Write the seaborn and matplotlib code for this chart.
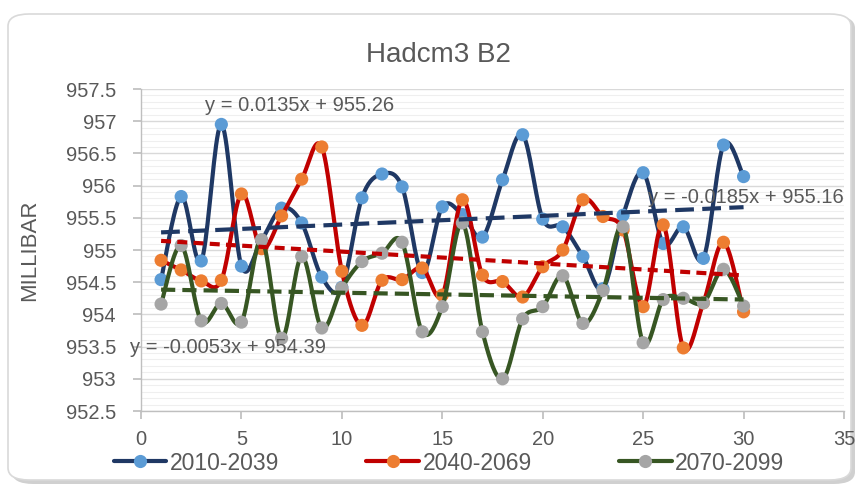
import numpy as np
import pandas as pd
import matplotlib
matplotlib.use("Agg")
import matplotlib.pyplot as plt
from matplotlib.patches import FancyBboxPatch
from matplotlib.lines import Line2D
import seaborn as sns

# ---------------- data ----------------
years = list(range(1, 31))
s2010 = [954.54, 955.83, 954.83, 956.95, 954.75, 955.15, 955.65, 955.42, 954.58, 954.42,
         955.81, 956.18, 955.98, 954.65, 955.67, 955.55, 955.20, 956.09, 956.79, 955.48,
         955.36, 954.90, 954.40, 955.54, 956.20, 955.10, 955.36, 954.87, 956.63, 956.14]
s2040 = [954.84, 954.69, 954.52, 954.53, 955.87, 955.02, 955.53, 956.10, 956.60, 954.67,
         953.83, 954.53, 954.54, 954.72, 954.30, 955.78, 954.61, 954.51, 954.27, 954.74,
         955.00, 955.78, 955.52, 955.31, 954.12, 955.39, 953.48, 954.18, 955.12, 954.04]
s2070 = [954.16, 955.07, 953.90, 954.17, 953.88, 955.16, 953.63, 954.90, 953.79, 954.41,
         954.82, 954.95, 955.12, 953.73, 954.12, 955.42, 953.73, 953.00, 953.93, 954.12,
         954.60, 953.86, 954.37, 955.36, 953.56, 954.23, 954.25, 954.18, 954.70, 954.13]
series_names = ["2010-2039", "2040-2069", "2070-2099"]
trend_slopes = [0.0135, -0.0185, -0.0053]
trend_intercepts = [955.26, 955.16, 954.39]
trend_labels = ["y = 0.0135x + 955.26", "y = -0.0185x + 955.16", "y = -0.0053x + 954.39"]
title = "Hadcm3 B2"
ylabel = "MILLIBAR"

# ---------------- style ----------------
sns.set_theme(style="white")
plt.rcParams["font.family"] = ["Liberation Sans", "DejaVu Sans"]
txt = "#595959"

line_colors = ["#1F3864", "#C00000", "#375623"]
marker_colors = ["#5B9BD5", "#ED7D31", "#A5A5A5"]
dash_styles = [(0, (4.5, 2.0)), (0, (2.4, 1.5)), (0, (3.4, 1.7))]

def smooth(x, y, n=20):
    x = np.asarray(x, float); y = np.asarray(y, float)
    px = np.concatenate([[x[0]], x, [x[-1]]])
    py = np.concatenate([[y[0]], y, [y[-1]]])
    xs, ys = [], []
    t = np.linspace(0, 1, n)
    for i in range(1, len(px) - 2):
        p0 = np.array([px[i], py[i]]); p3 = np.array([px[i + 1], py[i + 1]])
        c1 = p0 + (p3 - np.array([px[i - 1], py[i - 1]])) / 6
        c2 = p3 - (np.array([px[i + 2], py[i + 2]]) - p0) / 6
        b = ((1 - t) ** 3)[:, None] * p0 + (3 * (1 - t) ** 2 * t)[:, None] * c1 \
            + (3 * (1 - t) * t ** 2)[:, None] * c2 + (t ** 3)[:, None] * p3
        xs.append(b[:, 0]); ys.append(b[:, 1])
    return np.concatenate(xs), np.concatenate(ys)

fig = plt.figure(figsize=(8.59, 4.86), dpi=100)
fig.patch.set_facecolor("white")

# chart area frame with shadow
shadow = FancyBboxPatch((12 / 859, 1 - 484 / 486), 843 / 859, 468 / 486,
                        boxstyle="round,pad=0,rounding_size=0.025", transform=fig.transFigure,
                        facecolor="#D0D0D0", edgecolor="none", zorder=-3)
frame = FancyBboxPatch((8 / 859, 1 - 480 / 486), 843 / 859, 466 / 486,
                       boxstyle="round,pad=0,rounding_size=0.025", transform=fig.transFigure,
                       facecolor="white", edgecolor="#D9D9D9", linewidth=1.2, zorder=-2)
fig.patches.extend([shadow, frame])

ax = fig.add_axes([141 / 859, 1 - 411 / 486, 703 / 859, 322 / 486])
ax.set_facecolor("none")

all_series = [s2010, s2040, s2070]
for i, s in enumerate(all_series):
    sx, sy = smooth(years, s)
    df_line = pd.DataFrame({"x": sx, "y": sy})
    sns.lineplot(data=df_line, x="x", y="y", sort=False, ax=ax, color=line_colors[i],
                 linewidth=3.0, zorder=3 + i, estimator=None)
    df_pts = pd.DataFrame({"x": years, "y": s})
    sns.scatterplot(data=df_pts, x="x", y="y", ax=ax, color=marker_colors[i], s=90,
                    edgecolor="none", zorder=3.5 + i, linewidth=0)

for i in range(3):
    tx = np.array([1, 30])
    ty = trend_slopes[i] * tx + trend_intercepts[i]
    ax.plot(tx, ty, color=line_colors[i], linewidth=3.0, linestyle=dash_styles[i], zorder=7)

# trend labels
ax.text(3.2, 957.25, trend_labels[0], color=txt, fontsize=14.5, va="center", ha="left", zorder=10)
ax.text(25.25, 955.82, trend_labels[1], color=txt, fontsize=14.5, va="center", ha="left",
        zorder=10, clip_on=False)
ax.text(-0.55, 953.48, trend_labels[2], color=txt, fontsize=14.5, va="center", ha="left",
        zorder=10, clip_on=False)

ax.set_xlim(0, 35)
ax.set_ylim(952.5, 957.5)
ax.set_xticks(np.arange(0, 36, 5))
ax.set_yticks(np.arange(952.5, 957.51, 0.5))
ax.set_yticklabels([f"{v:g}" for v in np.arange(952.5, 957.51, 0.5)])
ax.set_yticks(np.arange(952.5, 957.51, 0.1), minor=True)
ax.grid(which="major", axis="y", color="#D9D9D9", linewidth=1.0)
ax.grid(which="minor", axis="y", color="#EFEFEF", linewidth=0.8)
ax.set_axisbelow(True)
for sp in ["top", "right"]:
    ax.spines[sp].set_visible(False)
for sp in ["left", "bottom"]:
    ax.spines[sp].set_color("#BFBFBF")
    ax.spines[sp].set_linewidth(1.0)
ax.tick_params(axis="y", which="major", direction="out", length=6, color="#BFBFBF",
               labelsize=14.5, labelcolor=txt, pad=12, left=True)
ax.tick_params(axis="y", which="minor", length=0)
ax.tick_params(axis="x", which="major", direction="out", length=6, color="#BFBFBF",
               labelsize=14.5, labelcolor=txt, pad=8, bottom=True)
ax.set_xlabel("")
ax.set_ylabel("")
if ax.get_legend() is not None:
    ax.get_legend().remove()

fig.text(30 / 859, 1 - 250 / 486, ylabel, rotation=90, color=txt, fontsize=16,
         va="center", ha="center")
fig.text(438 / 859, 1 - 55 / 486, title, color=txt, fontsize=20, va="center", ha="center")

handles = [Line2D([0], [0], color=line_colors[i], linewidth=3.0, marker="o",
                  markersize=9.5, markerfacecolor=marker_colors[i], markeredgecolor="none")
           for i in range(3)]
fig.legend(handles, series_names, loc="center", bbox_to_anchor=(449 / 859, 1 - 463 / 486),
           ncol=3, frameon=False, fontsize=16.5, labelcolor=txt, handlelength=2.3,
           handletextpad=0.15, columnspacing=3.8, borderpad=0.1)

fig.savefig("out.png", dpi=100)
